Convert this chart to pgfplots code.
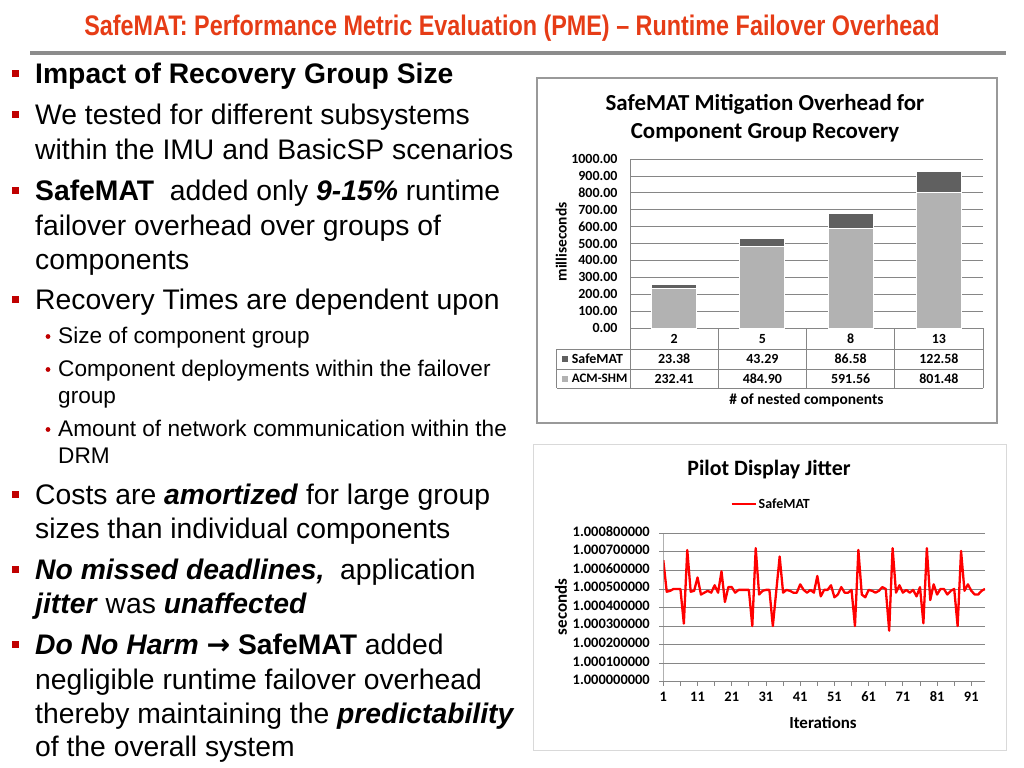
\documentclass[border=0pt]{standalone}
\usepackage{pgfplots}
\pgfplotsset{compat=1.18}
\usepackage{fontspec}
\setmainfont{Liberation Sans}
\newfontfamily\calibri{Carlito}
\newfontfamily\dejavu{DejaVu Sans}

\definecolor{titlered}{RGB}{230,60,22}
\definecolor{bulletred}{RGB}{192,0,0}
\definecolor{darkbar}{RGB}{96,96,96}
\definecolor{lightbar}{RGB}{178,178,178}
\definecolor{gridgray}{RGB}{134,134,134}
\definecolor{rulegray}{RGB}{140,140,140}

\newcommand\cb[1]{\calibri\bfseries\fontsize{#1}{#1}\selectfont}
\newcommand\bi[1]{\textbf{\textit{#1}}}
% seconds like 1.000655 -> microseconds above 1 s, done on the string so no precision is lost
\def\usparse 1.#1\relax{\the\numexpr1#1-1000000\relax}

% slide text helpers (y in pixels from the top)
\newcommand\mainline[2]{\node[anchor=base west,inner sep=0] at (35,#1) {\fontsize{28.4}{34}\selectfont #2};}
\newcommand\subline[2]{\node[anchor=base west,inner sep=0] at (58,#1) {\fontsize{22.7}{27}\selectfont #2};}
\newcommand\bul[1]{\fill[bulletred] (11.5,#1-13.5) rectangle (18.5,#1-6.5);}
\newcommand\sbul[1]{\fill[bulletred] (48,#1-6.5) circle (2.4bp);}

\begin{document}
\begin{tikzpicture}
\begin{scope}[x=1bp,y=-1bp]
\path[use as bounding box, fill=white] (0,0) rectangle (1024,768);

\node[anchor=base, inner sep=0, text=titlered] at (512,36)
  {\scalebox{0.826}[1]{\fontsize{28.4}{30}\selectfont\bfseries SafeMAT: Performance Metric Evaluation (PME) – Runtime Failover Overhead}};
\draw[rulegray, line width=3.5bp] (30,53) -- (1006,53);

\bul{84}\mainline{84}{\textbf{Impact of Recovery Group Size}}
\bul{124}\mainline{124}{We tested for different subsystems}
\mainline{159}{within the IMU and BasicSP scenarios}
\bul{200}\mainline{200}{\textbf{SafeMAT}\ \ added only \bi{9-15\%} runtime}
\mainline{235}{failover overhead over groups of}
\mainline{269}{components}
\bul{309}\mainline{309}{Recovery Times are dependent upon}
\sbul{343}\subline{343}{Size of component group}
\sbul{376}\subline{376}{Component deployments within the failover}
\subline{403}{group}
\sbul{436}\subline{436}{Amount of network communication within the}
\subline{463}{DRM}
\bul{504}\mainline{504}{Costs are \bi{amortized} for large group}
\mainline{538}{sizes than individual components}
\bul{579}\mainline{579}{\bi{No missed deadlines,}\ \ application}
\mainline{613}{\bi{jitter} was \bi{unaffected}}
\bul{654}\mainline{654}{\bi{Do No Harm} {\dejavu\bfseries →} \textbf{SafeMAT} added}
\mainline{689}{negligible runtime failover overhead}
\mainline{723}{thereby maintaining the \bi{predictability}}
\mainline{756}{of the overall system}

% chart frames and titles
\draw[black!40, line width=2bp] (537,78) rectangle (997,423);
\node[anchor=base] at (765,110) {\cb{23}SafeMAT Mitigation Overhead for};
\node[anchor=base] at (765,138) {\cb{23}Component Group Recovery};
\draw[black!15, line width=1bp] (533,444) rectangle (1006,750);
\node[anchor=base] at (769,475) {\cb{22}Pilot Display Jitter};
\node[rotate=90] at (561,607) {\cb{17}seconds};
\node at (823,723) {\cb{17}Iterations};
\end{scope}

% ---- stacked bars: recovery overhead ----
\begin{axis}[
  at={(630bp,-328bp)}, anchor=south west,
  scale only axis, width=353bp, height=169bp,
  ybar stacked, bar width=45bp,
  xmin=-0.5, xmax=3.5, ymin=0, ymax=1000,
  enlargelimits=false,
  xtick=\empty,
  ytick distance=100,
  major tick length=0pt,
  ymajorgrids, grid style={gridgray, line width=0.8bp},
  axis line style={draw=none},
  clip=false,
  yticklabel style={font={\cb{14}}, xshift=-9bp},
  /pgf/number format/.cd, fixed, fixed zerofill, precision=2, 1000 sep={}, assume math mode=true,
]
\addplot[fill=lightbar, draw=white, line width=0.8bp] coordinates {(0,232.41) (1,484.90) (2,591.56) (3,801.48)};
\addplot[fill=darkbar, draw=white, line width=0.8bp] coordinates {(0,23.38) (1,43.29) (2,86.58) (3,122.58)};

% data table under the plot
\draw[gridgray, line width=0.8bp] (axis cs:-0.5,1000) -- (axis cs:-0.5,-356.8);
\draw[gridgray, line width=0.8bp] (axis cs:-0.5,0) -- (axis cs:3.5,0);
\draw[gridgray, line width=0.8bp] (axis cs:0.5,0) -- (axis cs:0.5,-356.8);
\draw[gridgray, line width=0.8bp] (axis cs:1.5,0) -- (axis cs:1.5,-356.8);
\draw[gridgray, line width=0.8bp] (axis cs:2.5,0) -- (axis cs:2.5,-356.8);
\draw[gridgray, line width=0.8bp] (axis cs:3.5,0) -- (axis cs:3.5,-356.8);
\draw[gridgray, line width=0.8bp] (axis cs:-1.33,-124.3) -- (axis cs:3.5,-124.3);
\draw[gridgray, line width=0.8bp] (axis cs:-1.33,-242.6) -- (axis cs:3.5,-242.6);
\draw[gridgray, line width=0.8bp] (axis cs:-1.33,-356.8) -- (axis cs:3.5,-356.8);
\draw[gridgray, line width=0.8bp] (axis cs:-1.33,-124.3) -- (axis cs:-1.33,-356.8);

\node[font={\cb{14}}] at (axis cs:0,-65) {2};
\node[font={\cb{14}}] at (axis cs:1,-65) {5};
\node[font={\cb{14}}] at (axis cs:2,-65) {8};
\node[font={\cb{14}}] at (axis cs:3,-65) {13};
\node[font={\cb{14}}] at (axis cs:0,-183.5) {23.38};
\node[font={\cb{14}}] at (axis cs:1,-183.5) {43.29};
\node[font={\cb{14}}] at (axis cs:2,-183.5) {86.58};
\node[font={\cb{14}}] at (axis cs:3,-183.5) {122.58};
\node[font={\cb{14}}] at (axis cs:0,-299) {232.41};
\node[font={\cb{14}}] at (axis cs:1,-299) {484.90};
\node[font={\cb{14}}] at (axis cs:2,-299) {591.56};
\node[font={\cb{14}}] at (axis cs:3,-299) {801.48};

\fill[darkbar] (axis cs:-1.271,-165.8) rectangle (axis cs:-1.203,-201.3);
\fill[lightbar] (axis cs:-1.271,-281.3) rectangle (axis cs:-1.203,-316.8);
\node[font={\cb{14}}, anchor=west, inner sep=0] at (axis cs:-1.161,-183.5) {SafeMAT};
\node[font={\cb{13}}, anchor=west, inner sep=0] at (axis cs:-1.161,-299) {ACM-SHM};

\node[font={\cb{15.5}}] at (axis cs:1.5,-426) {\# of nested components};
\node[font={\cb{15.5}}, rotate=90] at (axis cs:-1.28,509) {milliseconds};
\end{axis}

% ---- line chart: pilot display jitter ----
\begin{axis}[
  at={(663.3bp,-681.7bp)}, anchor=south west,
  scale only axis, width=321.7bp, height=148.4bp,
  xmin=1, xmax=95, enlargelimits=false,
  y coord trafo/.code={\edef\jtmp{#1}\edef\pgfmathresult{\expandafter\usparse\jtmp\relax}},
  ymin=1.000000, ymax=1.000800,
  ytick={1.000000,1.000100,1.000200,1.000300,1.000400,1.000500,1.000600,1.000700,1.000800},
  yticklabels={1.000000000,1.000100000,1.000200000,1.000300000,1.000400000,1.000500000,1.000600000,1.000700000,1.000800000},
  xtick={1,11,...,91}, minor xtick={6,16,...,86},
  xtick pos=left, ytick pos=left,
  tick align=outside, major tick length=4bp, minor tick length=4bp,
  tick style={gridgray, line width=0.8bp},
  ymajorgrids, grid style={gridgray, line width=0.8bp},
  axis line style={draw=none},
  typeset ticklabels with strut,
  xticklabel style={font={\cb{14.5}}, yshift=-2bp},
  yticklabel style={font={\cb{14.5}}, xshift=-6bp},
  legend style={at={(0.335,1.197)}, anchor=center, draw=none, fill=none, font={\cb{14}}},
  legend image code/.code={\draw[#1] (0bp,0bp) -- (24bp,0bp);},
  /pgf/number format/assume math mode=true,
]
\addplot[color={rgb,255:red,255;green,0;blue,0}, line width=2.3bp, mark=none, line join=round] table[x=i, y=s] {
i s
1 1.000655
2 1.000485
3 1.000490
4 1.000500
5 1.000500
6 1.000500
7 1.000313
8 1.000710
9 1.000485
10 1.000490
11 1.000562
12 1.000470
13 1.000480
14 1.000490
15 1.000480
16 1.000520
17 1.000480
18 1.000595
19 1.000430
20 1.000510
21 1.000510
22 1.000480
23 1.000495
24 1.000495
25 1.000495
26 1.000495
27 1.000300
28 1.000720
29 1.000470
30 1.000490
31 1.000495
32 1.000495
33 1.000300
34 1.000488
35 1.000675
36 1.000480
37 1.000495
38 1.000490
39 1.000480
40 1.000480
41 1.000525
42 1.000495
43 1.000480
44 1.000495
45 1.000480
46 1.000570
47 1.000460
48 1.000495
49 1.000495
50 1.000520
51 1.000455
52 1.000470
53 1.000510
54 1.000480
55 1.000480
56 1.000495
57 1.000300
58 1.000710
59 1.000470
60 1.000455
61 1.000495
62 1.000490
63 1.000480
64 1.000490
65 1.000510
66 1.000500
67 1.000275
68 1.000720
69 1.000480
70 1.000520
71 1.000480
72 1.000495
73 1.000480
74 1.000495
75 1.000460
76 1.000510
77 1.000315
78 1.000720
79 1.000440
80 1.000525
81 1.000470
82 1.000500
83 1.000500
84 1.000470
85 1.000490
86 1.000500
87 1.000300
88 1.000705
89 1.000490
90 1.000525
91 1.000490
92 1.000470
93 1.000470
94 1.000490
95 1.000500
};
\legend{SafeMAT}
\draw[gridgray, line width=0.8bp] (rel axis cs:0,0) -- (rel axis cs:1,0);
\draw[gridgray, line width=0.8bp] (rel axis cs:0,0) -- (rel axis cs:0,1);
\end{axis}
\end{tikzpicture}
\end{document}
